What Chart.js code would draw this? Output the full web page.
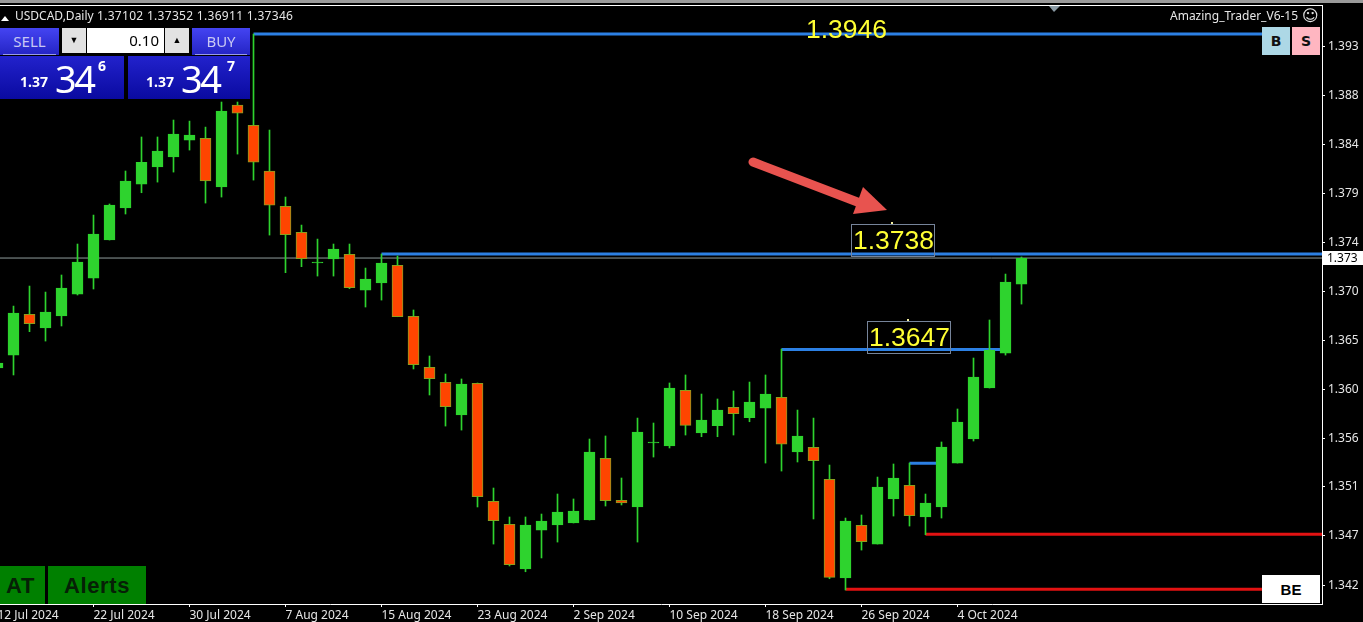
<!DOCTYPE html>
<html>
<head>
<meta charset="utf-8">
<title>USDCAD Daily</title>
<script src="https://cdn.jsdelivr.net/npm/chart.js@4"></script>
<style>
    html, body { margin: 0; padding: 0; background: #000; width: 1363px; height: 622px; overflow: hidden; }
    #wrap { position: relative; width: 1363px; height: 622px; font-family: "Noto Sans", sans-serif; }
    #chart { position: absolute; left: 0; top: 0; }
    #wrap div, #wrap span { position: absolute; white-space: nowrap; }
    #arrow { position: absolute; left: 0; top: 0; }

    .topband { left: 0; top: 0; width: 1363px; height: 3px; background: #9a9a9a; }
    .topline { left: 0; top: 5px; width: 1322px; height: 1px; background: #fff; }
    .head { top: 7px; font-size: 12px; line-height: 18px; color: #e6e6e6; }

    .trade { top: 28px; height: 27px; width: 59px; background: linear-gradient(#4444f2, #2424c4); color: #c8c8f4; font-size: 15px; line-height: 26px; text-align: center; }
    .trade i { position: absolute; left: 3px; right: 3px; bottom: 0; height: 1px; background: #9a9ae8; }
    .lot { top: 28px; height: 25px; background: #e2e2e2; color: #000; font-size: 9px; line-height: 24px; text-align: center; }
    .quote { top: 56px; height: 43px; background: linear-gradient(#2222cc, #0a0aa0); }
    .quote .sm { font-size: 14px; font-weight: bold; color: #fff; top: 16px; line-height: 20px; }
    .quote .big { font-size: 38px; letter-spacing: -2.5px; color: #fff; top: -3px; line-height: 50px; }
    .quote .sup { font-size: 14px; font-weight: bold; color: #fff; top: 2px; line-height: 16px; }

    .level { font-family: "Liberation Sans", sans-serif; font-size: 26.5px; line-height: 30px; color: #ffff33; }
    .levelbox { border: 1px solid #76849a; box-sizing: border-box; }
    .dot { width: 2px; height: 2px; background: #f4f0a0; }

    .green { top: 566px; height: 38px; background: #008000; color: #062006; font-family: "Liberation Sans", sans-serif; font-weight: bold; font-size: 22px; letter-spacing: 0.6px; line-height: 39px; text-align: center; }
    .side { top: 27px; width: 28px; height: 28px; color: #111; font-family: "DejaVu Sans", sans-serif; font-weight: bold; font-size: 14px; line-height: 28px; text-align: center; }
    .be { left: 1262px; top: 575px; width: 58px; height: 28px; background: #fff; color: #000; font-family: "Liberation Sans", sans-serif; font-weight: bold; font-size: 15px; line-height: 29px; text-align: center; }
    .pricetag { left: 1323px; top: 251px; width: 40px; height: 14px; background: #fff; color: #000; font-size: 12px; line-height: 14px; padding-left: 4px; box-sizing: border-box; }
</style>
</head>
<body>
<div id="wrap">
    <canvas id="chart" width="1363" height="622"></canvas>

    <div class="topband"></div>
    <div class="topline"></div>

    <svg id="arrow" width="1363" height="622">
        <polygon points="1049,6 1060,6 1054,12" fill="#8a9aa4"></polygon>
        <line x1="753" y1="162" x2="860" y2="203" stroke="#e8534f" stroke-width="9" stroke-linecap="round"></line>
        <polygon points="863,187 887,210 853,214" fill="#e8534f"></polygon>
        <polygon points="1,21 9,21 5,16" fill="#fff"></polygon>
    </svg>

    <div class="head" style="left:15px">USDCAD,Daily</div>
    <div class="head" style="left:97px;letter-spacing:0.3px">1.37102 1.37352 1.36911 1.37346</div>
    <div class="head" style="left:1170px">Amazing_Trader_V6-15</div>
    <div class="head" style="left:1302px;font-family:'DejaVu Sans';font-size:16px">☺</div>

    <div class="trade" style="left:0">SELL<i></i></div>
    <div class="lot" style="left:62px;width:24px">▼</div>
    <div class="lot" style="left:87px;width:77px;background:#fff;font-size:15px;text-align:right;padding-right:5px;box-sizing:border-box">0.10</div>
    <div class="lot" style="left:165px;width:24px">▲</div>
    <div class="trade" style="left:192px;width:58px">BUY<i></i></div>

    <div class="quote" style="left:0;width:124px">
        <span class="sm" style="left:20px">1.37</span>
        <span class="big" style="left:55px">34</span>
        <span class="sup" style="left:98px">6</span>
    </div>
    <div class="quote" style="left:128px;width:122px">
        <span class="sm" style="left:18px">1.37</span>
        <span class="big" style="left:53px">34</span>
        <span class="sup" style="left:99px">7</span>
    </div>

    <div class="level" style="left:806px;top:14px">1.3946</div>
    <div class="levelbox" style="left:851px;top:224px;width:84px;height:33px"></div>
    <div class="level" style="left:853px;top:225px">1.3738</div>
    <div class="dot" style="left:891px;top:222px"></div>
    <div class="levelbox" style="left:867px;top:321px;width:84px;height:33px"></div>
    <div class="level" style="left:869px;top:322px">1.3647</div>
    <div class="dot" style="left:907px;top:319px"></div>

    <div class="green" style="left:0;width:41px">AT</div>
    <div class="green" style="left:48px;width:98px">Alerts</div>
    <div class="green" style="left:41px;width:4px"></div>
    <div class="side" style="left:1262px;background:#add8e6">B</div>
    <div class="side" style="left:1292px;background:#ffb6c1">S</div>
    <div class="be">BE</div>
    <div class="pricetag">1.373</div>
</div>

<script>
// Candles, one per trading day, 12 Jul 2024 to 10 Oct 2024
const opens = [
    1.36293, 1.36416, 1.36803, 1.36673, 1.36787, 1.36995, 1.37147, 1.37508, 1.37812, 1.38039,
    1.38201, 1.38296, 1.38457, 1.38473, 1.38011, 1.38789, 1.38597, 1.38163, 1.37828, 1.37581,
    1.37290, 1.37328, 1.37372, 1.37033, 1.37100, 1.37268, 1.36784, 1.36300, 1.36157, 1.35847,
    1.36148, 1.35028, 1.34809, 1.34385, 1.34755, 1.34803, 1.34822, 1.34850, 1.35436, 1.35037,
    1.34974, 1.35581, 1.35553, 1.36081, 1.35676, 1.35745, 1.35920, 1.35821, 1.35913, 1.36015,
    1.35496, 1.35540, 1.35236, 1.34300, 1.34800, 1.34622, 1.35050, 1.35180, 1.34879, 1.34974,
    1.35391, 1.35619, 1.36103, 1.36435, 1.37090
];
const highs = [
    1.36369, 1.36881, 1.37071, 1.37014, 1.37176, 1.37470, 1.37745, 1.37850, 1.38163, 1.38486,
    1.38486, 1.38647, 1.38637, 1.38580, 1.38818, 1.38818, 1.39463, 1.38552, 1.37916, 1.37650,
    1.37517, 1.37470, 1.37470, 1.37242, 1.37375, 1.37356, 1.36844, 1.36407, 1.36236, 1.36189,
    1.36151, 1.35154, 1.34879, 1.34879, 1.34907, 1.35097, 1.35050, 1.35619, 1.35648, 1.35249,
    1.35818, 1.35771, 1.36151, 1.36227, 1.36046, 1.35999, 1.36075, 1.36160, 1.36227, 1.36473,
    1.35894, 1.35818, 1.35372, 1.34869, 1.34898, 1.35258, 1.35382, 1.35391, 1.35097, 1.35591,
    1.35904, 1.36388, 1.36749, 1.37185, 1.37347
];
const lows = [
    1.36255, 1.36227, 1.36638, 1.36549, 1.36692, 1.36986, 1.37043, 1.37508, 1.37755, 1.37957,
    1.38058, 1.38153, 1.38362, 1.37859, 1.37916, 1.38324, 1.38077, 1.37555, 1.37198, 1.37255,
    1.37166, 1.37166, 1.37046, 1.36872, 1.36938, 1.36780, 1.36284, 1.36037, 1.35742, 1.35704,
    1.34974, 1.34622, 1.34414, 1.34359, 1.34490, 1.34641, 1.34822, 1.34850, 1.34983, 1.34993,
    1.34641, 1.35448, 1.35534, 1.35657, 1.35641, 1.35641, 1.35657, 1.35783, 1.35391, 1.35315,
    1.35401, 1.34860, 1.34293, 1.34186, 1.34565, 1.34622, 1.34888, 1.34793, 1.34711, 1.34869,
    1.35391, 1.35600, 1.36103, 1.36416, 1.36900
];
const closes = [
    1.36340, 1.36815, 1.36713, 1.36825, 1.37052, 1.37299, 1.37565, 1.37840, 1.38068, 1.38245,
    1.38353, 1.38514, 1.38505, 1.38068, 1.38732, 1.38713, 1.38248, 1.37840, 1.37558, 1.37330,
    1.37299, 1.37423, 1.37055, 1.37138, 1.37290, 1.36780, 1.36324, 1.36191, 1.35926, 1.36141,
    1.35071, 1.34844, 1.34426, 1.34803, 1.34841, 1.34926, 1.34936, 1.35496, 1.35033, 1.35012,
    1.35686, 1.35591, 1.36103, 1.35749, 1.35799, 1.35894, 1.35859, 1.35970, 1.36046, 1.35569,
    1.35648, 1.35413, 1.34306, 1.34841, 1.34644, 1.35163, 1.35249, 1.34891, 1.35012, 1.35543,
    1.35780, 1.36208, 1.36464, 1.37109, 1.37334
];

// Axis ticks
const xTickIndex = [0, 6, 12, 18, 24, 30, 36, 42, 48, 54, 60];
const xTickLabels = ['12 Jul 2024', '22 Jul 2024', '30 Jul 2024', '7 Aug 2024', '15 Aug 2024', '23 Aug 2024',
    '2 Sep 2024', '10 Sep 2024', '18 Sep 2024', '26 Sep 2024', '4 Oct 2024'];
const yTickValues = [1.39343, 1.38879, 1.38414, 1.37950, 1.37486, 1.37021, 1.36557, 1.36092, 1.35628, 1.35164, 1.34700, 1.34231];
const yTickLabels = ['1.393', '1.388', '1.384', '1.379', '1.374', '1.370', '1.365', '1.360', '1.356', '1.351', '1.347', '1.342'];

// Horizontal levels: price, first candle, last candle
const xMin = 0.15625;
const xMax = 82.78125;
const yMin = 1.34053;
const yMax = 1.39739;
const blueLevels = [[1.39463, 16, 79.03], [1.37375, 24, xMax], [1.36470, 49, 63], [1.35388, 57, 59]];
const redLevels = [[1.34714, 58, xMax], [1.34192, 53, 79.03]];
const bidLevel = 1.37337;

const GREEN = '#2ed32e';
const RED = '#ff4500';
const RED_EDGE = '#8a9f1e';

function levelDataset(level, color, width) {
    return {
        type: 'line',
        data: [{ x: level[1], y: level[0] }, { x: level[2], y: level[0] }],
        borderColor: color,
        borderWidth: width,
        pointRadius: 0,
        order: 5
    };
}

function createCandleChart() {
    const ctx = document.getElementById('chart').getContext('2d');
    const isUp = i => closes[i] >= opens[i];

    new Chart(ctx, {
        type: 'bar',
        data: {
            datasets: [
                {
                    data: opens.map((o, i) => ({ x: i, y: [o, closes[i]] })),
                    barThickness: 11,
                    backgroundColor: opens.map((o, i) => isUp(i) ? GREEN : RED),
                    borderColor: opens.map((o, i) => isUp(i) ? GREEN : RED_EDGE),
                    borderWidth: 1,
                    borderSkipped: false,
                    order: 1
                },
                {
                    data: lows.map((l, i) => ({ x: i, y: [l, highs[i]] })),
                    barThickness: 1,
                    backgroundColor: GREEN,
                    order: 2
                },
                ...blueLevels.map(l => levelDataset(l, '#2c80e4', 3)),
                ...redLevels.map(l => levelDataset(l, '#e31212', 3)),
                levelDataset([bidLevel, xMin, xMax], '#8f9c9c', 1)
            ]
        },
        options: {
            responsive: false,
            animation: false,
            grouped: false,
            layout: { padding: { top: 5, left: 0, right: 0, bottom: 0 } },
            plugins: {
                legend: { display: false },
                tooltip: { enabled: false }
            },
            scales: {
                x: {
                    type: 'linear',
                    offset: false,
                    min: xMin,
                    max: xMax,
                    afterBuildTicks: scale => { scale.ticks = xTickIndex.map(v => ({ value: v })); },
                    afterFit: scale => {
                        scale.height = 18;
                        scale.paddingLeft = 0;
                        scale.paddingRight = 0;
                    },
                    border: { color: '#fff' },
                    grid: { offset: false, drawOnChartArea: false, color: '#fff', tickColor: '#fff', tickLength: 3 },
                    ticks: {
                        autoSkip: false,
                        maxRotation: 0,
                        align: 'start',
                        padding: 1,
                        color: '#e6e6e6',
                        font: { family: 'Noto Sans', size: 12 },
                        callback: v => xTickLabels[xTickIndex.indexOf(v)]
                    }
                },
                y: {
                    type: 'linear',
                    position: 'right',
                    min: yMin,
                    max: yMax,
                    afterBuildTicks: scale => { scale.ticks = yTickValues.map(v => ({ value: v })); },
                    afterFit: scale => {
                        scale.width = 41;
                        scale.paddingTop = 0;
                        scale.paddingBottom = 0;
                    },
                    border: { color: '#fff' },
                    grid: { drawOnChartArea: false, color: '#fff', tickColor: '#fff', tickLength: 3 },
                    ticks: {
                        autoSkip: false,
                        padding: 3,
                        color: '#e6e6e6',
                        font: { family: 'Noto Sans', size: 12 },
                        callback: v => yTickLabels[yTickValues.indexOf(v)]
                    }
                }
            }
        }
    });
}

createCandleChart();
</script>
</body>
</html>
